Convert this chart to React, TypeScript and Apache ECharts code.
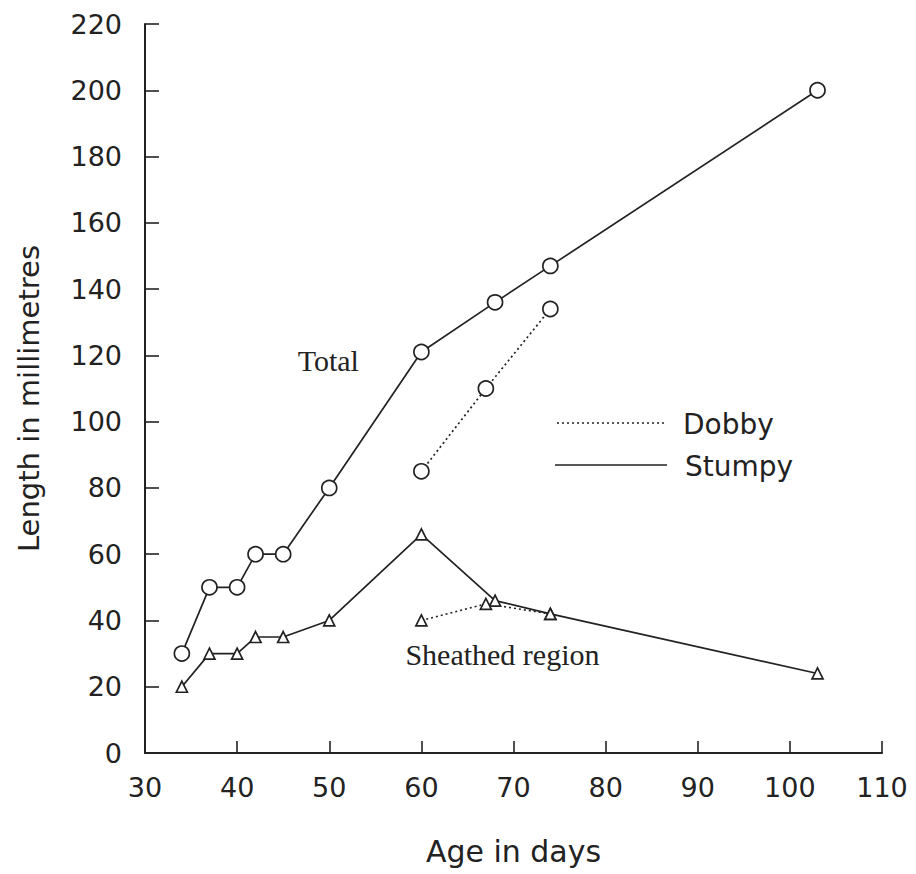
import React, { useEffect, useRef } from "react";
import * as echarts from "echarts";

const ages = [34, 37, 40, 42, 45, 50, 60, 68, 74, 103];
const stumpyTotal = [30, 50, 50, 60, 60, 80, 121, 136, 147, 200];
const stumpySheathed = [20, 30, 30, 35, 35, 40, 66, 46, 42, 24];
const dobbyAges = [60, 67, 74];
const dobbyTotal = [85, 110, 134];
const dobbySheathed = [40, 45, 42];

const xTicks = [30, 40, 50, 60, 70, 80, 90, 100, 110];
const yTicks = [0, 20, 40, 60, 80, 100, 120, 140, 160, 180, 200, 220];

const annotations = [
  { text: "Total", x: 49.9, y: 118.6 },
  { text: "Sheathed region", x: 68.8, y: 29.7 },
];

const INK = "#222";
const SANS = "DejaVu Sans";
const SERIF = "Liberation Serif";

const pairs = (xs: number[], ys: number[]) => xs.map((x, i) => [x, ys[i]]);

export default function App() {
  const ref = useRef<HTMLDivElement>(null);
  useEffect(() => {
    if (!ref.current) return;
    const chart = echarts.init(ref.current, undefined, { renderer: "svg" });
    const lineBase = (name: string, data: number[][], symbol: string, size: number, dotted: boolean) => ({
      type: "line",
      name,
      data,
      symbol,
      symbolSize: size,
      showAllSymbol: true,
      lineStyle: { color: INK, width: 1.7, type: dotted ? [2, 3] : "solid" },
      itemStyle: { color: "#fff", borderColor: INK, borderWidth: 1.7 },
      z: 3,
    });
    chart.setOption({
      animation: false,
      backgroundColor: "#fff",
      grid: { left: 145, top: 24, width: 737, height: 729, containLabel: false },
      xAxis: {
        type: "value",
        min: xTicks[0],
        max: xTicks[xTicks.length - 1],
        interval: 10,
        name: "Age in days",
        nameLocation: "middle",
        nameGap: 83,
        nameTextStyle: { fontFamily: SANS, fontSize: 30, color: INK },
        axisLine: { onZero: false, lineStyle: { color: INK, width: 2 } },
        axisTick: { inside: true, length: 12, lineStyle: { color: INK, width: 1.6 } },
        axisLabel: { fontFamily: SANS, fontSize: 27, color: INK, margin: 21 },
        splitLine: { show: false },
      },
      yAxis: {
        type: "value",
        min: yTicks[0],
        max: yTicks[yTicks.length - 1],
        interval: 20,
        name: "Length in millimetres",
        nameLocation: "middle",
        nameGap: 102,
        nameTextStyle: { fontFamily: SANS, fontSize: 29, color: INK, padding: [0, 20, 0, 0] },
        axisLine: { show: true, lineStyle: { color: INK, width: 2 } },
        axisTick: { show: true, inside: true, length: 14, lineStyle: { color: INK, width: 1.6 } },
        axisLabel: { fontFamily: SANS, fontSize: 27, color: INK, margin: 23 },
        splitLine: { show: false },
      },
      series: [
        lineBase("Stumpy", pairs(ages, stumpyTotal), "circle", 15, false),
        lineBase("Stumpy", pairs(ages, stumpySheathed), "triangle", 11, false),
        lineBase("Dobby", pairs(dobbyAges, dobbyTotal), "circle", 15, true),
        lineBase("Dobby", pairs(dobbyAges, dobbySheathed), "triangle", 11, true),
      ],
    });
    const texts = annotations.map((a) => {
      const [px, py] = chart.convertToPixel({ gridIndex: 0 }, [a.x, a.y]) as number[];
      return {
        type: "text",
        x: px,
        y: py,
        style: {
          text: a.text,
          font: `30px '${SERIF}'`,
          fill: INK,
          align: "center",
          verticalAlign: "middle",
        },
      };
    });
    chart.setOption({
      graphic: [
        ...texts,
        { type: "line", shape: { x1: 557, y1: 423, x2: 667, y2: 423 }, style: { stroke: INK, lineWidth: 1.7, lineDash: [2, 3] } },
        { type: "text", x: 683, y: 424, style: { text: "Dobby", font: `28px '${SANS}'`, fill: INK, verticalAlign: "middle" } },
        { type: "line", shape: { x1: 555, y1: 465, x2: 667, y2: 465 }, style: { stroke: INK, lineWidth: 1.7 } },
        { type: "text", x: 685, y: 466, style: { text: "Stumpy", font: `28px '${SANS}'`, fill: INK, verticalAlign: "middle" } },
      ],
    });
    return () => chart.dispose();
  }, []);
  return <div ref={ref} style={{ position: "fixed", left: 0, top: 0, width: 916, height: 874, background: "#fff" }} />;
}
